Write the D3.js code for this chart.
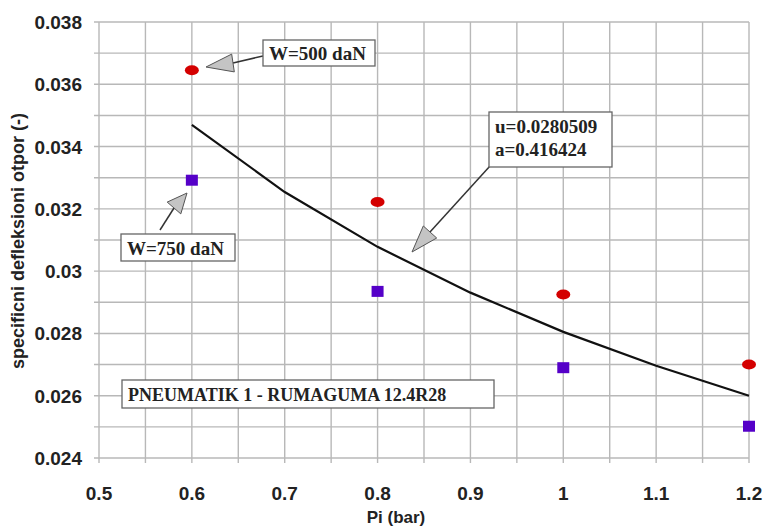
<!DOCTYPE html>
<html><head><meta charset="utf-8">
<script src="https://cdn.jsdelivr.net/npm/d3@7"></script>
<style>body{margin:0;background:#fff}svg{display:block}</style>
</head><body>
<svg id="c" width="764" height="527"></svg>
<script>
const pressures = [0.6, 0.8, 1.0, 1.2];
const w500 = [0.03645, 0.03222, 0.02925, 0.02700];
const w750 = [0.03292, 0.02935, 0.02690, 0.02502];
const fitX = [0.6, 0.7, 0.8, 0.9, 1.0, 1.1, 1.2];
const fitY = [0.03470, 0.03254, 0.03078, 0.02931, 0.02805, 0.02696, 0.02600];
const xTicks = [0.5, 0.6, 0.7, 0.8, 0.9, 1.0, 1.1, 1.2];
const yTicks = [0.024, 0.026, 0.028, 0.03, 0.032, 0.034, 0.036, 0.038];
const xGrid = d3.range(0, 15).map(i => +(0.5 + i * 0.05).toFixed(2));
const yGrid = d3.range(0, 15).map(i => +(0.024 + i * 0.001).toFixed(3));

const svg = d3.select('#c');
const x = d3.scaleLinear().domain([0.5, 1.2]).range([99, 749]);
const y = d3.scaleLinear().domain([0.024, 0.038]).range([458, 22]);
const gridC = '#b8b8b8';

// grid
svg.append('g').selectAll('line').data(xGrid).join('line')
  .attr('x1', d => x(d)).attr('x2', d => x(d)).attr('y1', y(0.038)).attr('y2', y(0.024) + 5)
  .attr('stroke', gridC).attr('stroke-width', 1.4);
svg.append('g').selectAll('line').data(yGrid).join('line')
  .attr('y1', d => y(d)).attr('y2', d => y(d)).attr('x1', x(0.5) - 5).attr('x2', x(1.2))
  .attr('stroke', gridC).attr('stroke-width', 1.4);

// tick labels
const lab = {'font-family': 'Liberation Sans, Arial, sans-serif', 'font-weight': 'bold', 'font-size': '19px', fill: '#222'};
const yl = svg.append('g').selectAll('text').data(yTicks).join('text')
  .attr('x', 82).attr('y', d => y(d) + 7).attr('text-anchor', 'end').text(d => String(d));
Object.entries(lab).forEach(([k, v]) => yl.attr(k, v));
const xl = svg.append('g').selectAll('text').data(xTicks).join('text')
  .attr('x', d => x(d)).attr('y', 500).attr('text-anchor', 'middle').text(d => String(d));
Object.entries(lab).forEach(([k, v]) => xl.attr(k, v));

svg.append('text').attr('x', 396).attr('y', 523).attr('text-anchor', 'middle')
  .attr('font-family', 'Liberation Sans, Arial, sans-serif').attr('font-weight', 'bold')
  .attr('font-size', '17px').attr('fill', '#222').text('Pi (bar)');
svg.append('text').attr('transform', 'translate(24,241) rotate(-90)').attr('text-anchor', 'middle')
  .attr('font-family', 'Liberation Sans, Arial, sans-serif').attr('font-weight', 'bold')
  .attr('font-size', '18px').attr('fill', '#222').text('specificni defleksioni otpor (-)');

// fit curve
svg.append('path').datum(fitX.map((d, i) => [d, fitY[i]]))
  .attr('d', d3.line().x(d => x(d[0])).y(d => y(d[1])))
  .attr('fill', 'none').attr('stroke', '#111').attr('stroke-width', 2.2);

// W=500 ellipses
svg.append('g').selectAll('ellipse').data(pressures).join('ellipse')
  .attr('cx', d => x(d)).attr('cy', (d, i) => y(w500[i])).attr('rx', 7).attr('ry', 5)
  .attr('fill', '#d40000');
// W=750 squares
svg.append('g').selectAll('rect').data(pressures).join('rect')
  .attr('x', d => x(d) - 6).attr('y', (d, i) => y(w750[i]) - 5.5).attr('width', 12).attr('height', 11)
  .attr('fill', '#5500c8');

// callouts
function arrow(x1, y1, bx, by, tx, ty) {
  svg.append('line').attr('x1', x1).attr('y1', y1).attr('x2', bx).attr('y2', by)
    .attr('stroke', '#333').attr('stroke-width', 1.5);
  const ang = Math.atan2(ty - by, tx - bx);
  const half = 9;
  const px = -Math.sin(ang) * half, py = Math.cos(ang) * half;
  svg.append('polygon').attr('points', [[tx, ty], [bx + px, by + py], [bx - px, by - py]].map(p => p.join(',')).join(' '))
    .attr('fill', '#c4c4c4').attr('stroke', '#555').attr('stroke-width', 1);
}
function box(x0, y0, w, h, lines, fs, base, gap) {
  svg.append('rect').attr('x', x0).attr('y', y0).attr('width', w).attr('height', h)
    .attr('fill', '#fff').attr('stroke', '#666').attr('stroke-width', 1.3);
  lines.forEach((t, i) => svg.append('text').attr('x', x0 + 6).attr('y', y0 + base + i * gap)
    .attr('font-family', 'Liberation Serif, Times New Roman, serif').attr('font-weight', 'bold')
    .attr('font-size', fs + 'px').attr('fill', '#222').text(t));
}
arrow(263, 56, 233, 63, 206, 67);
box(263, 40, 112, 26, ['W=500 daN'], 19, 20, 0);
arrow(160, 230, 174, 208, 187, 193);
box(121, 234, 114, 27, ['W=750 daN'], 19, 21, 0);
arrow(490, 166, 430, 232, 412, 252);
box(489, 112, 123, 55, ['u=0.0280509', 'a=0.416424'], 19, 21, 23);
box(122, 380, 372, 28, ['PNEUMATIK 1 - RUMAGUMA 12.4R28'], 18, 21, 0);
</script>
</body></html>
